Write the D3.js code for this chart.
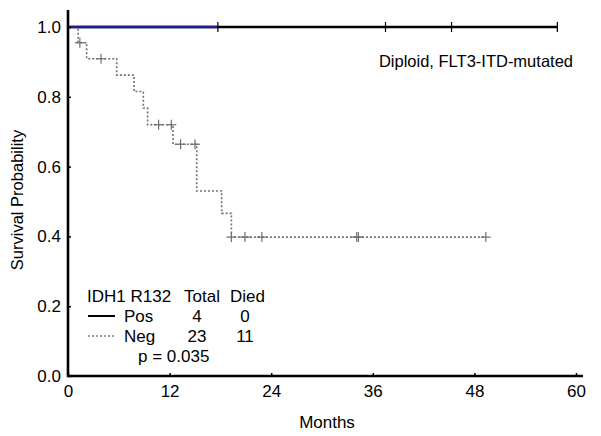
<!DOCTYPE html>
<html><head><meta charset="utf-8">
<script src="https://cdn.jsdelivr.net/npm/d3@7"></script>
<style>body{margin:0;background:#fff}svg{display:block}text{font-family:Arial,"Liberation Sans",sans-serif;fill:#000}</style>
</head><body>
<svg id="c" width="601" height="436"></svg>
<script>
const xTicks = [0, 12, 24, 36, 48, 60];
const yTicks = [0.0, 0.2, 0.4, 0.6, 0.8, 1.0];
// Pos group (IDH1 R132 positive): no deaths
const posTimes = [0, 57.8];
const posSurv = [1.0, 1.0];
const posBlueEnd = 17.7;
const posCensor = [17.7, 37.5, 45.3, 57.8];
// Neg group
const negTimes = [0, 1.2, 2.2, 5.75, 7.8, 8.9, 9.4, 12.4, 15.2, 18.15, 19.3];
const negSurv = [1.0, 0.955, 0.909, 0.862, 0.815, 0.768, 0.72, 0.664, 0.53, 0.466, 0.398];
const negEnd = 49.35;
const negCensor = [1.4, 3.9, 10.7, 12.2, 13.3, 15.0, 19.3, 20.9, 22.9, 34.1, 34.3, 49.35];
const legendRows = [["Pos", "4", "0"], ["Neg", "23", "11"]];
const pText = "p = 0.035";
const subtitle = "Diploid, FLT3-ITD-mutated";

const FS = 17;
const svg = d3.select("#c");
const x = d3.scaleLinear().domain([0, 60]).range([68, 576]);
const y = d3.scaleLinear().domain([0, 1]).range([376, 27]);

function survAt(times, surv, t) {
  let s = surv[0];
  for (let i = 0; i < times.length; i++) if (times[i] <= t) s = surv[i];
  return s;
}
function stepPts(times, surv, end) {
  const pts = [];
  for (let i = 0; i < times.length; i++) {
    if (i > 0) pts.push([times[i], surv[i - 1]]);
    pts.push([times[i], surv[i]]);
  }
  pts.push([end, surv[surv.length - 1]]);
  return pts;
}
const line = d3.line().x(d => x(d[0])).y(d => y(d[1]));

// Neg curve
svg.append("path").attr("d", line(stepPts(negTimes, negSurv, negEnd)))
  .attr("fill", "none").attr("stroke", "#707070").attr("stroke-width", 1.6)
  .attr("stroke-dasharray", "2,2");
negCensor.forEach(t => {
  const s = survAt(negTimes, negSurv, t);
  svg.append("line").attr("x1", x(t)).attr("x2", x(t)).attr("y1", y(s) - 5).attr("y2", y(s) + 5)
    .attr("stroke", "#707070").attr("stroke-width", 1.2);
  svg.append("line").attr("x1", x(t) - 5).attr("x2", x(t) + 5).attr("y1", y(s)).attr("y2", y(s))
    .attr("stroke", "#707070").attr("stroke-width", 1.2);
});

// Pos curve
const posPts = stepPts(posTimes.slice(0, 1), posSurv.slice(0, 1), posTimes[1]);
svg.append("path").attr("d", line(posPts))
  .attr("fill", "none").attr("stroke", "#000").attr("stroke-width", 2.4);
svg.append("path").attr("d", line([[0, posSurv[0]], [posBlueEnd, posSurv[0]]]))
  .attr("fill", "none").attr("stroke", "#1c1c8e").attr("stroke-width", 2.4);
posCensor.forEach(t => {
  const s = survAt(posTimes, posSurv, t);
  svg.append("line").attr("x1", x(t)).attr("x2", x(t)).attr("y1", y(s) - 5).attr("y2", y(s) + 5)
    .attr("stroke", "#000").attr("stroke-width", 1.2);
});

// Axes
const xAx = svg.append("g").attr("transform", "translate(0,376)")
  .call(d3.axisBottom(x).tickValues(xTicks).tickFormat(d3.format("d")).tickSizeInner(-3).tickSizeOuter(0).tickPadding(9));
xAx.select(".domain").attr("d", "M67,0H583").attr("stroke-width", 2.6);
xAx.selectAll(".tick line").attr("stroke-width", 1.5);
xAx.selectAll(".tick text").attr("font-size", FS).attr("font-family", "Arial, 'Liberation Sans', sans-serif");

const yAx = svg.append("g").attr("transform", "translate(68,0)")
  .call(d3.axisLeft(y).tickValues(yTicks).tickFormat(d3.format(".1f")).tickSizeInner(-3).tickSizeOuter(0).tickPadding(7));
yAx.select(".domain").attr("d", "M0,10V377").attr("stroke-width", 2.6);
yAx.selectAll(".tick line").attr("stroke-width", 1.5);
yAx.selectAll(".tick text").attr("font-size", FS).attr("font-family", "Arial, 'Liberation Sans', sans-serif");

svg.append("text").attr("x", 327).attr("y", 428).attr("text-anchor", "middle").attr("font-size", FS).text("Months");
svg.append("text").attr("transform", "translate(23,200) rotate(-90)").attr("text-anchor", "middle")
  .attr("font-size", 16.5).text("Survival Probability");
svg.append("text").attr("x", 573).attr("y", 67).attr("text-anchor", "end").attr("font-size", 16.5).text(subtitle);

// Legend
const lg = svg.append("g");
lg.append("text").attr("x", 87).attr("y", 302).attr("font-size", FS).text("IDH1 R132");
lg.append("text").attr("x", 184).attr("y", 302).attr("font-size", FS).text("Total");
lg.append("text").attr("x", 230).attr("y", 302).attr("font-size", FS).text("Died");
legendRows.forEach((r, i) => {
  const by = 322 + i * 20;
  const ly = by - 6;
  lg.append("line").attr("x1", 88).attr("x2", 115).attr("y1", ly).attr("y2", ly)
    .attr("stroke", i === 0 ? "#000" : "#808080").attr("stroke-width", i === 0 ? 2 : 1.5)
    .attr("stroke-dasharray", i === 0 ? null : "2,2");
  lg.append("text").attr("x", 124).attr("y", by).attr("font-size", FS).text(r[0]);
  lg.append("text").attr("x", 197).attr("y", by).attr("text-anchor", "middle").attr("font-size", FS).text(r[1]);
  lg.append("text").attr("x", 245).attr("y", by).attr("text-anchor", "middle").attr("font-size", FS).text(r[2]);
});
lg.append("text").attr("x", 138).attr("y", 362).attr("font-size", FS).text(pText);
</script>
</body></html>
